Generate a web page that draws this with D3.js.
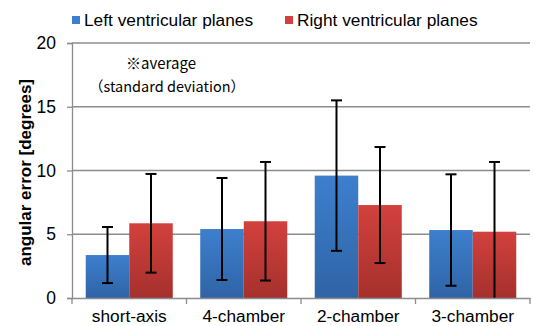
<!DOCTYPE html>
<html>
<head>
<meta charset="utf-8">
<script src="https://cdn.jsdelivr.net/npm/d3@7"></script>
<style>
  body { margin: 0; background: #fff; }
  svg { display: block; }
  svg text { font-family: "Liberation Sans", Arial, sans-serif; }
  svg text.note { font-family: "Noto Sans CJK JP", sans-serif; }
</style>
</head>
<body>
<svg id="chart" width="534" height="326"></svg>
<script>
// ---- data ----
const categories = ["short-axis", "4-chamber", "2-chamber", "3-chamber"];
const seriesNames = ["Left ventricular planes", "Right ventricular planes"];
const leftMean = [3.37, 5.41, 9.6, 5.33];
const leftSD = [2.2, 4.0, 5.9, 4.37];
const rightMean = [5.86, 6.02, 7.29, 5.2];
const rightSD = [3.87, 4.65, 4.55, 5.47];
const yTicks = [0, 5, 10, 15, 20];

const svg = d3.select("#chart"),
    margin = { top: 43, right: 4, bottom: 28, left: 72 },
    width = +svg.attr("width") - margin.left - margin.right,
    height = +svg.attr("height") - margin.top - margin.bottom;

const keys = ["left", "right"];
const tableData = categories.map((c, i) => ({
    cat: c,
    left: { mean: leftMean[i], sd: leftSD[i] },
    right: { mean: rightMean[i], sd: rightSD[i] }
}));

// gradients for the bars
const defs = svg.append("defs");
const grads = { left: ["#3d7fcd", "#2f64a6"], right: ["#d2413d", "#a5302d"] };
keys.forEach(k => {
    const g = defs.append("linearGradient")
        .attr("id", "grad-" + k)
        .attr("x1", 0).attr("y1", 0).attr("x2", 0).attr("y2", 1);
    g.append("stop").attr("offset", "0%").attr("stop-color", grads[k][0]);
    g.append("stop").attr("offset", "100%").attr("stop-color", grads[k][1]);
});

const chart = svg.append("g")
    .attr("transform", `translate(${margin.left},${margin.top})`);

// scales
const x0 = d3.scaleBand()
    .domain(categories)
    .range([0, width])
    .paddingInner(0.24)
    .paddingOuter(0.12);

const x1 = d3.scaleBand()
    .domain(keys)
    .range([0, x0.bandwidth()]);

const y = d3.scaleLinear()
    .domain([0, 20])
    .range([height, 0]);

// gridlines
chart.append("g")
    .selectAll("line")
    .data(yTicks.filter(t => t > 0))
    .join("line")
    .attr("x1", 0)
    .attr("x2", width)
    .attr("y1", d => y(d))
    .attr("y2", d => y(d))
    .attr("stroke", "#8c8c8c")
    .attr("stroke-width", 1.3);

// bars
const groups = chart.append("g")
    .selectAll("g")
    .data(tableData)
    .join("g")
    .attr("transform", d => `translate(${x0(d.cat)},0)`);

groups.selectAll("rect")
    .data(d => keys.map(k => ({ key: k, mean: d[k].mean, sd: d[k].sd })))
    .join("rect")
    .attr("x", d => x1(d.key))
    .attr("y", d => y(d.mean))
    .attr("width", x1.bandwidth())
    .attr("height", d => height - y(d.mean))
    .attr("fill", d => `url(#grad-${d.key})`);

// error bars
const err = groups.selectAll("g.err")
    .data(d => keys.map(k => ({ key: k, mean: d[k].mean, sd: d[k].sd })))
    .join("g")
    .attr("class", "err")
    .attr("transform", d => `translate(${x1(d.key) + x1.bandwidth() / 2},0)`);

err.append("line")
    .attr("y1", d => y(d.mean + d.sd))
    .attr("y2", d => y(Math.max(0, d.mean - d.sd)))
    .attr("stroke", "#000")
    .attr("stroke-width", 2);

err.append("line")
    .attr("x1", -5.5).attr("x2", 5.5)
    .attr("y1", d => y(d.mean + d.sd))
    .attr("y2", d => y(d.mean + d.sd))
    .attr("stroke", "#000")
    .attr("stroke-width", 2);

err.filter(d => d.mean - d.sd > 0)
    .append("line")
    .attr("x1", -5.5).attr("x2", 5.5)
    .attr("y1", d => y(d.mean - d.sd))
    .attr("y2", d => y(d.mean - d.sd))
    .attr("stroke", "#000")
    .attr("stroke-width", 2);

// axes
const yAxis = chart.append("g")
    .call(d3.axisLeft(y).tickValues(yTicks).tickSize(5).tickPadding(11));
yAxis.select(".domain").attr("stroke", "#8c8c8c").attr("stroke-width", 1.3);
yAxis.selectAll(".tick line").attr("stroke", "#8c8c8c").attr("stroke-width", 1.3);
yAxis.selectAll("text")
    .style("font-size", "17.5px")
    .attr("fill", "#000");

const xAxis = chart.append("g")
    .attr("transform", `translate(0,${height})`)
    .call(d3.axisBottom(x0).tickSize(0).tickPadding(12));
xAxis.select(".domain").attr("stroke", "#8c8c8c").attr("stroke-width", 1.3);
xAxis.selectAll("text")
    .style("font-size", "17.3px")
    .attr("fill", "#000");

// category boundary ticks
const step = x0.step();
xAxis.append("g")
    .selectAll("line")
    .data(d3.range(categories.length + 1))
    .join("line")
    .attr("x1", i => i * step)
    .attr("x2", i => i * step)
    .attr("y1", 0)
    .attr("y2", 6)
    .attr("stroke", "#8c8c8c")
    .attr("stroke-width", 1.3);

// y title
svg.append("text")
    .attr("transform", `translate(31,${margin.top + height / 2 + 2}) rotate(-90)`)
    .attr("text-anchor", "middle")
    .style("font-size", "17px")
    .style("font-weight", "bold")
    .text("angular error [degrees]");

// annotation
svg.append("text").attr("class", "note")
    .attr("x", 161).attr("y", 69).attr("text-anchor", "middle")
    .style("font-size", "15px").text("※average");
svg.append("text").attr("class", "note")
    .attr("x", 167).attr("y", 92).attr("text-anchor", "middle")
    .style("font-size", "14.5px").text("（standard deviation）");

// legend
const legendX = [72, 285];
seriesNames.forEach((name, i) => {
    const g = svg.append("g").attr("transform", `translate(${legendX[i]},16)`);
    g.append("rect")
        .attr("width", 8)
        .attr("height", 8)
        .attr("fill", grads[keys[i]][0]);
    g.append("text")
        .attr("x", 12)
        .attr("y", 9.5)
        .style("font-size", "17.3px")
        .text(name);
});
</script>
</body>
</html>
